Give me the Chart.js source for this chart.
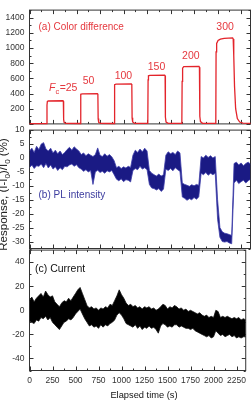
<!DOCTYPE html>
<html lang="en">
<head>
<meta charset="UTF-8" />
<title>Response vs elapsed time</title>
<script src="https://cdn.jsdelivr.net/npm/chart.js"></script>
<style>
  body { margin: 0; background: #fff; }
  #wrap { position: relative; width: 251px; height: 405px; overflow: hidden; }
  #wrap canvas { position: absolute; left: 0; }
</style>
</head>
<body>
<div id="wrap">
  <canvas id="chartA" width="251" height="134" style="top:0"></canvas>
  <canvas id="chartB" width="251" height="140" style="top:120px"></canvas>
  <canvas id="chartC" width="251" height="165" style="top:240px"></canvas>
</div>
<script>
  // (a) colour difference
  const aTime = [0,183,186,190,200,355,360,363,368,385,
    540,543,547,560,722,727,730,736,755,
    900,903,907,920,1083,1088,1091,1097,1118,
    1258,1261,1265,1280,1437,1442,1445,1452,1475,
    1620,1623,1628,1640,1802,1807,1811,1818,1840,
    1981,1984,1990,2005,2030,2070,2160,2166,2172,2180,2192,2210,2235,2270,2350];
  const aResp = [4,4,250,295,302,305,300,60,20,6,
    5,340,390,396,398,390,70,20,6,
    5,460,518,524,526,518,80,25,7,
    6,580,634,640,642,634,90,25,7,
    6,560,735,754,758,748,100,30,8,
    7,950,1060,1100,1118,1128,1133,1120,900,500,200,70,25,10,6];

  // pulse labels (gas concentration)
  const pulseText = ['25','50','100','150','200','300'];
  const pulseTime = [207,627,999,1350,1716,2080];
  const pulseVal  = [474,561,636,754,898,1272];

  // (b) and (c) sampled every 25 s: upper and lower edge of the noise band
  const bandTime = [0,25,50,75,100,125,150,175,200,225,
    250,275,300,325,350,375,400,425,450,475,
    500,525,550,575,600,625,650,675,700,725,
    750,775,800,825,850,875,900,925,950,975,
    1000,1025,1050,1075,1100,1125,1150,1175,1200,1225,
    1250,1275,1300,1325,1350,1375,1400,1425,1450,1475,
    1500,1525,1550,1575,1600,1625,1650,1675,1700,1725,
    1750,1775,1800,1825,1850,1875,1900,1925,1950,1975,
    2000,2025,2050,2075,2100,2125,2150,2175,2200,2225,
    2250,2275,2300,2325,2350];
  const bHigh = [2.5,3.5,2.0,4.2,3.0,5.0,5.5,3.2,2.5,3.5,
    1.8,2.8,1.5,2.5,1.2,2.0,3.0,3.8,2.8,4.0,
    3.2,2.5,1.2,1.8,0.8,1.5,1.0,0.5,1.2,3.6,
    1.0,0.5,1.5,0.6,1.2,0.4,-1.0,-3.5,-3.0,-3.8,
    -3.2,-3.6,-3.0,-3.4,1.0,2.8,2.0,3.2,2.2,3.5,
    2.5,-4.5,-5.5,-6.0,-6.5,-5.8,-6.5,-6.0,1.0,2.2,
    1.5,2.0,1.2,2.5,1.8,-9.0,-9.5,-9.8,-10.2,-9.6,
    -10.0,-9.5,-9.8,0.5,0.0,1.0,0.2,0.8,0.0,0.5,
    -15.0,-25.0,-26.5,-27.0,-27.2,-27.5,-27.8,-2.0,-1.5,-2.5,
    -1.8,-2.8,-2.0,-1.5,-2.2];
  const bLow = [-3.5,-2.5,-3.8,-2.8,-3.0,-2.2,-3.5,-2.0,-3.6,-2.5,
    -4.0,-3.2,-4.5,-3.5,-4.2,-3.0,-3.2,-2.5,-2.2,-3.0,
    -2.4,-3.5,-4.0,-4.8,-4.2,-5.0,-4.5,-9.5,-5.0,-4.4,
    -5.2,-4.8,-5.5,-4.6,-5.0,-4.5,-6.0,-7.6,-8.2,-7.5,
    -8.5,-7.8,-8.0,-8.6,-4.5,-3.8,-4.2,-3.0,-4.0,-3.5,
    -4.2,-9.5,-10.8,-11.0,-11.5,-11.0,-12.0,-11.2,-4.0,-4.5,
    -3.8,-4.6,-3.5,-4.2,-4.8,-14.0,-14.5,-15.2,-14.6,-15.0,
    -14.2,-14.8,-14.0,-5.5,-6.0,-5.2,-6.2,-5.5,-6.0,-5.5,
    -22.0,-28.5,-30.0,-30.2,-30.0,-30.5,-30.8,-9.0,-8.0,-9.2,
    -8.5,-8.0,-9.0,-8.2,-7.6];
  const cHigh = [8,11,7,10,12,14,11,16,13,11,
    12,7,5,3,6,8,7,10,8,11,
    14,17,19,14,9,4,2,3,1,2,
    0,2,1,3,2,5,4,8,12,17,
    13,10,6,4,5,3,4,2,3,1,
    3,2,3,1,2,0,1,3,5,4,
    1,3,2,4,3,1,2,0,1,-1,
    0,-1,-2,-3,-2,-4,-5,-4,-6,-5,
    -6,0,-1,-6,-5,-6,-5,-6,-7,-6,
    -7,-6,-8,-7,-8];
  const cLow = [-9,-10,-11,-8,-9,-6,-7,-5,-8,-6,
    -10,-12,-14,-16,-13,-10,-9,-7,-8,-6,
    -3,-1,1,-3,-7,-10,-13,-12,-14,-13,
    -15,-12,-14,-12,-13,-11,-10,-8,-4,-2,
    -4,-7,-11,-12,-13,-14,-12,-15,-13,-16,
    -14,-15,-13,-15,-14,-16,-19,-13,-11,-12,
    -14,-13,-14,-12,-12,-14,-13,-14,-15,-15,
    -16,-15,-17,-18,-19,-20,-21,-22,-21,-23,
    -22,-17,-19,-21,-20,-22,-21,-20,-22,-21,
    -23,-22,-23,-22,-22];

  // tick labels
  const xTicks = [0,250,500,750,1000,1250,1500,1750,2000,2250];
  const aTicks = [200,400,600,800,1000,1200,1400];
  const bTicks = [-30,-25,-20,-15,-10,-5,0,5,10];
  const cTicks = [-40,-20,0,20,40];

  const FONT = '"Liberation Sans", Arial, sans-serif';
  const RED = '#e3242b', BLUE = '#1a1a84';

  const pts = (xs, ys) => xs.map((t, i) => ({ x: t, y: ys[i] }));

  // box + inward ticks, drawn under the data
  function frame(minorX, yMajorStep, yMinorStep) {
    return {
      id: 'frame',
      beforeDatasetsDraw(chart) {
        const { ctx, chartArea: { left, right, top, bottom }, scales: { x, y } } = chart;
        ctx.save();
        ctx.strokeStyle = '#333';
        ctx.lineWidth = 1;
        ctx.strokeRect(left, top, right - left, bottom - top);
        ctx.beginPath();
        for (let v = 0; v <= x.max; v += minorX) {
          const len = v % (minorX * 2) === 0 ? 4 : 2;
          const px = Math.round(x.getPixelForValue(v)) + 0.5;
          ctx.moveTo(px, top); ctx.lineTo(px, top + len);
          ctx.moveTo(px, bottom); ctx.lineTo(px, bottom - len);
        }
        const start = Math.ceil(y.min / yMinorStep) * yMinorStep;
        for (let v = start; v <= y.max; v += yMinorStep) {
          const r = v / yMajorStep;
          const len = Math.abs(r - Math.round(r)) < 1e-6 ? 4 : 2;
          const py = Math.round(y.getPixelForValue(v)) + 0.5;
          ctx.moveTo(left, py); ctx.lineTo(left + len, py);
          ctx.moveTo(right, py); ctx.lineTo(right - len, py);
        }
        ctx.stroke();
        ctx.restore();
      }
    };
  }

  function makeChart(id, datasets, yMin, yMax, yTicks, showX, padding, plugins) {
    return new Chart(document.getElementById(id), {
      type: 'line',
      data: { datasets },
      options: {
        responsive: false,
        animation: false,
        events: [],
        layout: { padding },
        elements: { point: { radius: 0 }, line: { tension: 0 } },
        plugins: { legend: { display: false }, tooltip: { enabled: false } },
        scales: {
          x: {
            type: 'linear', min: 0, max: 2350, display: showX,
            afterBuildTicks: s => { s.ticks = xTicks.map(v => ({ value: v })); },
            afterFit: s => { if (showX) s.height = 34.5; },
            grid: { display: false, drawTicks: false },
            border: { display: false },
            ticks: { font: { family: FONT, size: 8.5 }, color: '#333', padding: 5, maxRotation: 0, autoSkip: false,
                     callback: v => String(v) }
          },
          y: {
            type: 'linear', min: yMin, max: yMax,
            afterBuildTicks: s => { s.ticks = yTicks.map(v => ({ value: v })); },
            afterFit: s => { s.width = 29.5; },
            grid: { display: false, drawTicks: false },
            border: { display: false },
            ticks: { font: { family: FONT, size: 8.5 }, color: '#333', padding: 5, autoSkip: false,
                     callback: v => String(v) }
          }
        }
      },
      plugins
    });
  }

  // panel (a)
  makeChart('chartA', [{
    data: pts(aTime, aResp), borderColor: RED, borderWidth: 1.3, clip: 4
  }], 0, 1500, aTicks, false, { top: 7.5, bottom: 5.5, left: 0, right: 0.5 }, [
    frame(125, 200, 100),
    {
      id: 'labelsA',
      afterDatasetsDraw(chart) {
        const { ctx, chartArea: { left, top }, scales: { x, y } } = chart;
        ctx.save();
        ctx.fillStyle = '#e5383e';
        ctx.textBaseline = 'middle';
        ctx.font = '10px ' + FONT;
        ctx.fillText('(a) Color difference', left + 9, top + 17);
        ctx.font = '10.5px ' + FONT;
        ctx.textAlign = 'center';
        for (let i = 1; i < pulseText.length; i++) {
          ctx.fillText(pulseText[i], x.getPixelForValue(pulseTime[i]), y.getPixelForValue(pulseVal[i]));
        }
        // F_c=25
        ctx.textAlign = 'left';
        let px = x.getPixelForValue(pulseTime[0]);
        const py = y.getPixelForValue(pulseVal[0]);
        ctx.font = 'italic 10.5px ' + FONT;
        ctx.fillText('F', px, py);
        px += ctx.measureText('F').width;
        ctx.font = '7.5px ' + FONT;
        ctx.fillText('c', px, py + 4);
        px += ctx.measureText('c').width + 0.5;
        ctx.font = '10.5px ' + FONT;
        ctx.fillText('=' + pulseText[0], px, py);
        ctx.restore();
      }
    }
  ]);

  // panel (b)
  makeChart('chartB', [
    { data: pts(bandTime, bLow), borderColor: '#3d3daa', borderWidth: 0.8, fill: false },
    { data: pts(bandTime, bHigh), borderColor: '#3d3daa', borderWidth: 0.8, fill: '-1', backgroundColor: BLUE }
  ], -32.5, 10, bTicks, false, { top: 8.5, bottom: 11.5, left: 0, right: 0.5 }, [
    frame(125, 5, 2.5),
    {
      id: 'labelsB',
      afterDatasetsDraw(chart) {
        const { ctx, chartArea: { left, top } } = chart;
        ctx.save();
        ctx.fillStyle = '#3a3a9e';
        ctx.textBaseline = 'middle';
        ctx.font = '10px ' + FONT;
        ctx.fillText('(b) PL intensity', left + 9, top + 65.5);
        // shared y-axis title, rotated
        ctx.fillStyle = '#222';
        ctx.translate(7, 74.5);
        ctx.rotate(-Math.PI / 2);
        ctx.textBaseline = 'alphabetic';
        const parts = [['Response, (I-I', 11.5, 0], ['0', 8, 3], [')/I', 11.5, 0], ['0', 8, 3], [' (%)', 11.5, 0]];
        let w = 0;
        parts.forEach(p => { ctx.font = p[1] + 'px ' + FONT; w += ctx.measureText(p[0]).width; });
        let cx = -w / 2;
        parts.forEach(p => {
          ctx.font = p[1] + 'px ' + FONT;
          ctx.fillText(p[0], cx, p[2]);
          cx += ctx.measureText(p[0]).width;
        });
        ctx.restore();
      }
    }
  ]);

  // panel (c)
  makeChart('chartC', [
    { data: pts(bandTime, cLow), borderColor: '#111', borderWidth: 0.8, fill: false },
    { data: pts(bandTime, cHigh), borderColor: '#111', borderWidth: 0.8, fill: '-1', backgroundColor: '#000' }
  ], -50, 50, cTicks, true, { top: 8.5, bottom: 0, left: 0, right: 0.5 }, [
    frame(125, 20, 10),
    {
      id: 'labelsC',
      afterDatasetsDraw(chart) {
        const { ctx, chartArea: { left, top } } = chart;
        ctx.save();
        ctx.fillStyle = '#111';
        ctx.textBaseline = 'middle';
        ctx.font = '10.5px ' + FONT;
        ctx.fillText('(c) Current', left + 5.5, top + 18.8);
        ctx.font = '9.3px ' + FONT;
        ctx.textAlign = 'center';
        ctx.fillText('Elapsed time (s)', 144, 155.3);
        ctx.restore();
      }
    }
  ]);
</script>
</body>
</html>
